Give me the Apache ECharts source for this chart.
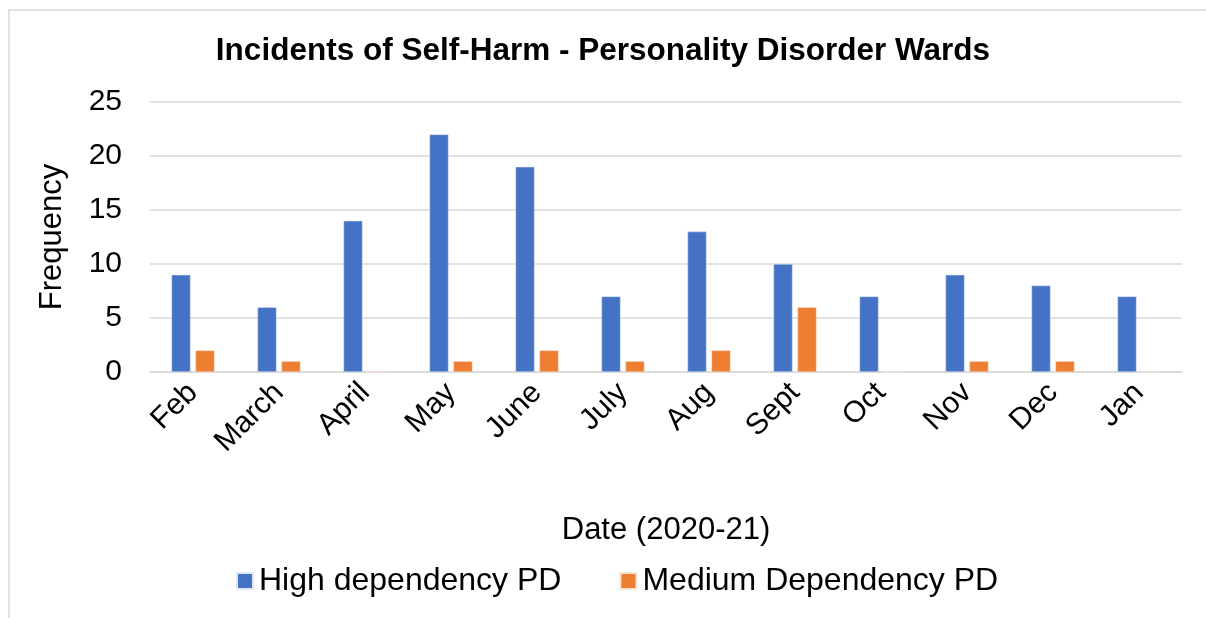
<!DOCTYPE html>
<html>
<head>
<meta charset="utf-8">
<script src="https://cdn.jsdelivr.net/npm/echarts@6/dist/echarts.min.js"></script>
<style>
html,body{margin:0;padding:0;background:#fff;}
#chart{width:1206px;height:618px;}
</style>
</head>
<body>
<div id="chart"></div>
<script>
const categories = ['Feb','March','April','May','June','July','Aug','Sept','Oct','Nov','Dec','Jan'];
const highDependency = [9,6,14,22,19,7,13,10,7,9,8,7];
const mediumDependency = [2,1,0,1,2,1,2,6,0,1,1,0];
const seriesNames = ['High dependency PD','Medium Dependency PD'];

const font = '"Liberation Sans", Arial, sans-serif';
const chart = echarts.init(document.getElementById('chart'), null, {renderer:'canvas'});
chart.setOption({
  animation:false,
  backgroundColor:'#fff',
  textStyle:{fontFamily:font},
  graphic:[{type:'rect',shape:{x:9,y:10,width:1400,height:800},style:{fill:'none',stroke:'#d9d9d9',lineWidth:1.5},silent:true}],
  title:{
    text:'Incidents of Self-Harm - Personality Disorder Wards',
    left:'center', top:30,
    textStyle:{fontFamily:font,fontSize:31.5,fontWeight:'bold',color:'#000'}
  },
  legend:{
    bottom:16, left:231,
    itemWidth:16, itemHeight:16, itemGap:58,
    icon:'rect',
    textStyle:{fontFamily:font,fontSize:32,color:'#000',padding:[0,0,0,1]},
    data:seriesNames
  },
  grid:{left:150,right:24,top:102,bottom:246},
  xAxis:{
    type:'category', data:categories,
    name:'Date (2020-21)', nameLocation:'middle', nameGap:143,
    nameTextStyle:{fontFamily:font,fontSize:31,color:'#000'},
    axisLine:{lineStyle:{color:'#d9d9d9',width:1.5}},
    axisTick:{show:false},
    axisLabel:{rotate:45,fontFamily:font,fontSize:30,color:'#000',margin:16,interval:0}
  },
  yAxis:{
    type:'value', min:0, max:25, interval:5,
    name:'Frequency', nameLocation:'middle', nameGap:82, nameRotate:90,
    nameTextStyle:{fontFamily:font,fontSize:31,color:'#000'},
    axisLine:{show:false}, axisTick:{show:false},
    splitLine:{lineStyle:{color:'#d9d9d9',width:1.5}},
    axisLabel:{fontFamily:font,fontSize:30,color:'#000',margin:28}
  },
  series:[
    {name:seriesNames[0],type:'bar',data:highDependency,barGap:'26%',barCategoryGap:'50%',
     itemStyle:{color:'#4472c4',borderColor:'#dfe7f5',borderWidth:0.5}},
    {name:seriesNames[1],type:'bar',data:mediumDependency,
     itemStyle:{color:'#ed7d31',borderColor:'#fbe3d4',borderWidth:0.5}}
  ]
});
</script>
</body>
</html>
